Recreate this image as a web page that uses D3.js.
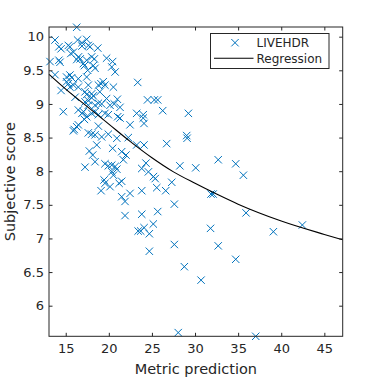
<!DOCTYPE html>
<html>
<head>
<meta charset="utf-8">
<script src="https://cdn.jsdelivr.net/npm/d3@7"></script>
<style>
html,body{margin:0;padding:0;background:#fff;}
svg{display:block;}
text{font-family:"DejaVu Sans",sans-serif;fill:#262626;}
</style>
</head>
<body>
<svg id="chart" width="378" height="378"></svg>
<script>
// Scatter data: metric prediction (x) and subjective score (y)
const pred = [
16.275,13.755,13.18,14.21,14.46,14.34,14.21,15.30,15.49,15.59,15.89,16.38,16.88,16.88,17.43,17.62,17.82,18.72,
16.28,16.48,16.68,17.05,17.17,17.43,18.01,18.32,18.20,18.40,17.55,19.74,20.44,20.73,20.34,
13.755,15.10,15.49,15.69,15.10,15.30,15.49,15.89,16.46,16.46,14.46,17.43,17.62,18.79,19.09,19.55,19.35,20.53,
17.24,17.43,18.01,18.20,18.95,16.09,17.62,18.01,19.74,20.99,23.35,24.49,25.28,25.67,26.25,29.23,
17.24,17.62,18.40,18.79,19.17,20.14,20.63,14.72,16.46,16.88,17.05,18.01,18.40,18.79,19.55,19.94,21.03,
17.17,17.43,16.46,15.99,16.28,18.79,23.23,23.99,24.08,23.99,22.46,21.30,21.30,
15.89,17.62,18.01,18.40,19.17,19.94,20.93,22.26,23.23,24.08,26.71,29.03,29.08,18.60,17.74,18.13,18.40,17.24,
20.44,21.49,21.99,21.68,19.55,19.94,20.34,20.73,20.34,20.93,23.82,24.31,24.59,28.24,30.08,32.69,34.72,35.61,
19.45,19.55,20.14,19.10,21.19,21.49,21.49,21.88,22.46,21.88,23.82,23.82,23.40,23.70,24.09,24.70,25.16,24.70,
25.67,25.18,25.38,25.56,26.60,27.30,27.60,27.60,28.76,30.70,31.80,31.85,32.10,32.69,34.72,35.92,39.09,42.45,
28.05,37.04,20.53
];
const mos = [
10.14,9.95,9.63,9.85,9.82,9.62,9.65,9.87,9.85,9.75,9.77,9.95,9.91,9.86,9.96,9.87,9.85,9.83,
9.66,9.70,9.67,9.60,9.57,9.65,9.70,9.67,9.57,9.53,9.50,9.68,9.63,9.475,9.55,
9.435,9.40,9.43,9.39,9.33,9.30,9.25,9.28,9.375,9.25,9.20,9.40,9.28,9.28,9.30,9.28,9.33,9.25,
9.18,9.14,9.15,9.12,9.18,9.10,9.05,9.09,9.08,9.07,9.32,9.06,9.06,9.06,8.90,8.86,
9.03,8.98,8.98,9.01,9.00,8.98,9.00,8.885,8.91,8.86,8.885,8.86,8.885,8.84,8.86,8.84,8.81,
8.77,8.81,8.69,8.62,8.66,8.67,8.86,8.84,8.71,8.79,8.69,8.95,8.79,
8.60,8.57,8.55,8.54,8.51,8.55,8.49,8.50,8.39,8.39,8.41,8.53,8.49,8.39,8.30,8.24,8.14,8.06,
8.34,8.29,8.24,8.17,8.11,8.08,8.09,8.07,7.99,8.03,8.04,8.12,7.99,8.08,8.05,8.17,8.11,7.94,
7.87,7.82,7.77,7.71,7.82,7.85,7.62,7.55,7.67,7.34,7.71,7.36,7.11,7.11,7.16,7.07,7.215,6.81,
7.40,7.92,7.89,7.755,7.71,7.835,7.51,6.91,6.58,6.38,7.15,7.66,7.66,6.89,6.69,7.38,7.10,7.20,
5.60,5.545,7.94
];
// Regression curve
const regX = [13.06,15,17.5,20,22.5,25,27.5,30,32.5,35,40,45,47.13];
const regY = [9.44,9.22,8.96,8.70,8.44,8.20,7.99,7.82,7.66,7.51,7.26,7.06,6.98];
const xTicks = [15,20,25,30,35,40,45];
const yTicks = [6,6.5,7,7.5,8,8.5,9,9.5,10];
const seriesNames = ["LIVEHDR","Regression"];
const xLabel = "Metric prediction";
const yLabel = "Subjective score";

const L = 49, R = 342.7, T = 27, B = 336.3;
const axisColor = "#262626";
const blue = "#0072BD";
const svg = d3.select("#chart");
const x = d3.scaleLinear().domain([13.06,47.13]).range([L,R]);
const y = d3.scaleLinear().domain([5.545,10.144]).range([B,T]);

const line = d3.line().x(d=>x(d[0])).y(d=>y(d[1])).curve(d3.curveMonotoneX);
const regData = regX.map((v,i)=>[v,regY[i]]);

const xs = "M-3.7,-3.7L3.7,3.7M-3.7,3.7L3.7,-3.7";
svg.append("g").selectAll("path").data(pred.map((v,i)=>[v,mos[i]])).enter()
  .append("path").attr("d",xs)
  .attr("transform",d=>`translate(${x(d[0])},${y(d[1])})`)
  .attr("stroke",blue).attr("stroke-width",1).attr("fill","none");

svg.append("path").datum(regData).attr("d",line)
  .attr("fill","none").attr("stroke","#000").attr("stroke-width",1.1);

const tl = 3.5;
const gBottom = svg.append("g").attr("transform",`translate(0,${B})`)
  .call(d3.axisBottom(x).tickValues(xTicks).tickSize(-tl).tickPadding(5).tickFormat(d3.format("d")));
const gTop = svg.append("g").attr("transform",`translate(0,${T})`)
  .call(d3.axisTop(x).tickValues(xTicks).tickSize(-tl).tickFormat(""));
const gLeft = svg.append("g").attr("transform",`translate(${L},0)`)
  .call(d3.axisLeft(y).tickValues(yTicks).tickSize(-tl).tickPadding(5).tickFormat(d=>d3.format("")(d)));
const gRight = svg.append("g").attr("transform",`translate(${R},0)`)
  .call(d3.axisRight(y).tickValues(yTicks).tickSize(-tl).tickFormat(""));
[gBottom,gTop,gLeft,gRight].forEach(g=>{
  g.select(".domain").remove();
  g.selectAll(".tick line").attr("stroke",axisColor).attr("stroke-width",1);
  g.selectAll(".tick text").style("font-family","DejaVu Sans").style("font-size","13px").attr("fill",axisColor);
});
gBottom.selectAll(".tick text").attr("dy","0.71em").attr("y",7);
gLeft.selectAll(".tick text").attr("x",-5);
svg.append("rect").attr("x",L).attr("y",T).attr("width",R-L).attr("height",B-T)
  .attr("fill","none").attr("stroke",axisColor).attr("stroke-width",1);

svg.append("text").attr("x",(L+R)/2).attr("y",374).attr("text-anchor","middle")
  .style("font-size","14.5px").text(xLabel);
svg.append("text").attr("transform",`translate(15,${(T+B)/2}) rotate(-90)`).attr("text-anchor","middle")
  .style("font-size","14.5px").text(yLabel);

const lg = svg.append("g");
lg.append("rect").attr("x",210.5).attr("y",33.5).attr("width",118.5).attr("height",35)
  .attr("fill","#fff").attr("stroke",axisColor).attr("stroke-width",1);
lg.append("path").attr("d",xs).attr("transform","translate(235,42.7)")
  .attr("stroke",blue).attr("stroke-width",1).attr("fill","none");
lg.append("line").attr("x1",214).attr("x2",253.5).attr("y1",58.3).attr("y2",58.3)
  .attr("stroke","#000").attr("stroke-width",1.1);
lg.append("text").attr("x",256.5).attr("y",47.3).style("font-size","12px").text(seriesNames[0]);
lg.append("text").attr("x",256.5).attr("y",62.6).style("font-size","12px").text(seriesNames[1]);
</script>
</body>
</html>
